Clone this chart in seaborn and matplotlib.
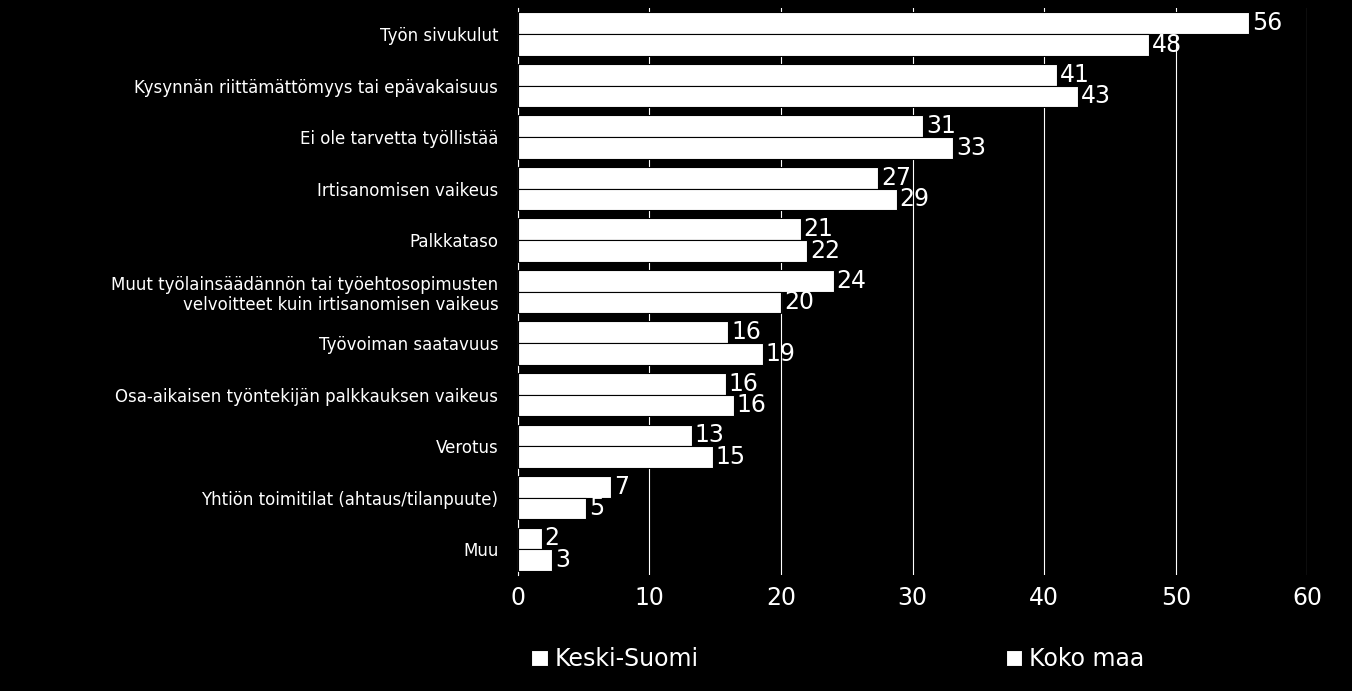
import matplotlib.pyplot as plt
import seaborn as sns
import pandas as pd

categories = ['Työn sivukulut', 'Kysynnän riittämättömyys tai epävakaisuus', 'Ei ole tarvetta työllistää',
              'Irtisanomisen vaikeus', 'Palkkataso',
              'Muut työlainsäädännön tai työehtosopimusten\nvelvoitteet kuin irtisanomisen vaikeus',
              'Työvoiman saatavuus', 'Osa-aikaisen työntekijän palkkauksen vaikeus', 'Verotus',
              'Yhtiön toimitilat (ahtaus/tilanpuute)', 'Muu']
keski_suomi = [55.6, 41, 30.8, 27.4, 21.5, 24, 16, 15.8, 13.2, 7.1, 1.8]
koko_maa = [48, 42.6, 33.1, 28.8, 22, 20, 18.6, 16.4, 14.8, 5.2, 2.6]
keski_labels = [56, 41, 31, 27, 21, 24, 16, 16, 13, 7, 2]
koko_labels = [48, 43, 33, 29, 22, 20, 19, 16, 15, 5, 3]

df = pd.DataFrame({'cat': categories * 2,
                   'val': keski_suomi + koko_maa,
                   'series': ['Keski-Suomi'] * 11 + ['Koko maa'] * 11})

fig = plt.figure(figsize=(13.52, 6.91), dpi=100, facecolor='black')
ax = fig.add_axes([0.383, 0.168, 0.584, 0.82])
ax.set_facecolor('black')
sns.barplot(data=df, y='cat', x='val', hue='series', palette=['white', 'white'],
            edgecolor='black', linewidth=0.8, width=0.84, ax=ax, zorder=3)

for cont, labels in zip(ax.containers, [keski_labels, koko_labels]):
    ax.bar_label(cont, labels=[str(v) for v in labels], color='white', fontsize=17, padding=2)

ax.set_xlim(0, 60)
ax.set_xticks(range(0, 61, 10))
ax.grid(axis='x', color='white', linewidth=0.8, zorder=0)
ax.set_xlabel('')
ax.set_ylabel('')
ax.tick_params(axis='x', colors='white', labelsize=17, length=0, pad=8)
ax.tick_params(axis='y', colors='white', labelsize=12, length=0, pad=14)
for s in ax.spines.values():
    s.set_visible(False)
ax.spines['left'].set_visible(True)
ax.spines['left'].set_color('white')

leg = ax.legend(loc='upper left', bbox_to_anchor=(-0.01, -0.09), ncol=2, frameon=False,
                fontsize=17, labelcolor='white', handlelength=0.7, handleheight=0.7,
                handletextpad=0.3, columnspacing=13)

fig.savefig('out.png', facecolor='black')
